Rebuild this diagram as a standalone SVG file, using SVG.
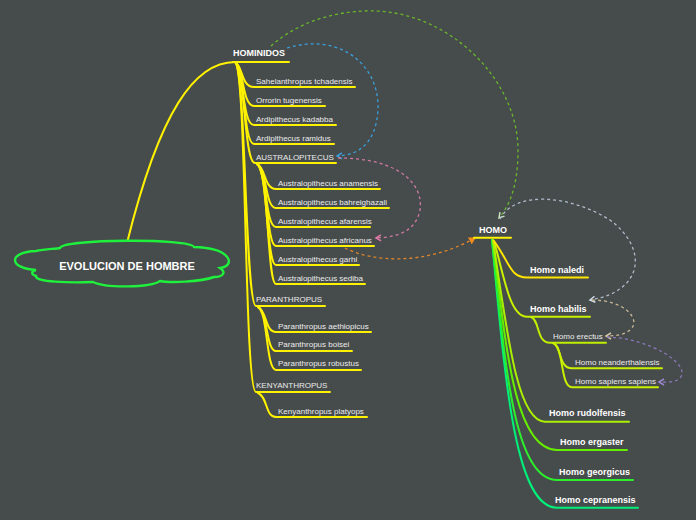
<svg xmlns="http://www.w3.org/2000/svg" width="696" height="520" viewBox="0 0 696 520">
<defs>
<style>
.bg{fill:#464b4b}
.br{fill:none;stroke-width:2;stroke-linecap:round}
.y{stroke:#fff200}
.t{font-family:"Liberation Sans",Arial,sans-serif;font-size:8px;fill:#ececec}
.b{font-family:"Liberation Sans",Arial,sans-serif;font-size:9px;font-weight:bold;fill:#ffffff}
.d{fill:none;stroke-width:1.3;stroke-dasharray:3 3}
</style>
<marker id="mBlue" markerWidth="8" markerHeight="8" refX="6" refY="4" orient="auto" markerUnits="userSpaceOnUse"><path d="M1,1 L6,4 L1,7" fill="none" stroke="#3aa0dc" stroke-width="1.5"/></marker>
<marker id="mPink" markerWidth="8" markerHeight="8" refX="6" refY="4" orient="auto" markerUnits="userSpaceOnUse"><path d="M1,1 L6,4 L1,7" fill="none" stroke="#e07aa8" stroke-width="1.5"/></marker>
<marker id="mGreen" markerWidth="8" markerHeight="8" refX="6" refY="4" orient="auto" markerUnits="userSpaceOnUse"><path d="M1,1 L6,4 L1,7" fill="none" stroke="#c8e0c0" stroke-width="1.5"/></marker>
<marker id="mGrey" markerWidth="8" markerHeight="8" refX="6" refY="4" orient="auto" markerUnits="userSpaceOnUse"><path d="M1,1 L6,4 L1,7" fill="none" stroke="#d0dce8" stroke-width="1.5"/></marker>
<marker id="mTan" markerWidth="8" markerHeight="8" refX="6" refY="4" orient="auto" markerUnits="userSpaceOnUse"><path d="M1,1 L6,4 L1,7" fill="none" stroke="#d8c8a8" stroke-width="1.5"/></marker>
<marker id="mPurple" markerWidth="8" markerHeight="8" refX="6" refY="4" orient="auto" markerUnits="userSpaceOnUse"><path d="M1,1 L6,4 L1,7" fill="none" stroke="#9a88cc" stroke-width="1.5"/></marker>
<marker id="mOrange" markerWidth="8" markerHeight="8" refX="6" refY="4" orient="auto" markerUnits="userSpaceOnUse"><path d="M0,0 L7,4 L0,8 Z" fill="#f08a1c"/></marker>
</defs>
<rect class="bg" x="0" y="0" width="696" height="520"/>

<g id="connectors">
<path class="br y" d="M127,243 C160,110 195,62 235,62"/>
<path class="br y" d="M235,62 C243,66 241,87 254,87 L355,87"/>
<path class="br y" d="M235,62 C244,67 242,106 254,106 L325,106"/>
<path class="br y" d="M235,62 C244,68 242,125 254,125 L336,125"/>
<path class="br y" d="M235,62 C245,68 243,144 254,144 L334,144"/>
<path class="br y" d="M235,62 C245,68 244,163 255,163 L336,163"/>
<path class="br y" d="M235,62 C246,70 245,306 256,306 L325,306"/>
<path class="br y" d="M235,62 C247,70 244,392 256,392 L330,392"/>
<path class="br y" d="M257,164 C266,168 264,189 276,189 L380,189"/>
<path class="br y" d="M257,164 C267,169 265,208 276,208 L389,208"/>
<path class="br y" d="M257,164 C267,170 265,227 276,227 L370,227"/>
<path class="br y" d="M257,164 C268,170 266,246 276,246 L374,246"/>
<path class="br y" d="M257,164 C268,170 266,265 276,265 L359,265"/>
<path class="br y" d="M257,164 C269,171 267,284 276,284 L365,284"/>
<path class="br y" d="M258,307 C267,311 265,332 276,332 L371,332"/>
<path class="br y" d="M258,307 C268,312 266,351 276,351 L352,351"/>
<path class="br y" d="M258,307 C268,312 266,370 276,370 L361,370"/>
<path class="br y" d="M258,393 C268,397 265,417 276,417 L367,417"/>
<path class="br" stroke="#00f07a" d="M492,240 C505,380 515,507.7 557,507.7 L638,507.7"/>
<path class="br" stroke="#2cf02c" d="M492,240 C505,360 513,480 557,480 L633,480"/>
<path class="br" stroke="#66ee00" d="M493,240 C506,350 515,450 557,450 L627,450"/>
<path class="br" stroke="#aaf000" d="M493,240 C508,340 518,421.7 545,421.7 L629,421.7"/>
<path class="br" stroke="#c8f000" d="M494,241 C505,280 510,316.7 527,316.7 L590,316.7"/>
<path class="br" stroke="#ffe400" d="M494,241 C510,263 510,277.5 527,277.5 L588,277.5"/>
<path class="br" stroke="#c0ee00" d="M531,317 C540,320 536,342.7 550,342.7 L606,342.7"/>
<path class="br" stroke="#c8f000" d="M553,343 C562,346 558,368.3 572,368.3 L662,368.3"/>
<path class="br" stroke="#c8f000" d="M553,343 C564,346 560,387.3 572,387.3 L658,387.3"/>
<path class="d" stroke="#6ab82a" marker-end="url(#mGreen)" d="M271,46 C300,20 340,10 375,11 C450,13 518,80 518,150 C518,185 510,205 499,218"/>
<path class="d" stroke="#3aa0dc" marker-end="url(#mBlue)" d="M287,48 C340,32 380,65 378,110 C376,140 362,155 337,156"/>
<path class="d" stroke="#d07aa0" marker-end="url(#mPink)" d="M338,158 C400,158 424,185 420,210 C416,230 400,237 376,238"/>
<path class="d" stroke="#e0852a" marker-end="url(#mOrange)" d="M345,248 C372,262 425,266 475,238"/>
<path class="d" stroke="#b0bccc" marker-end="url(#mGrey)" d="M500,219 C515,190 570,195 610,220 C650,250 642,292 590,300"/>
<path class="d" stroke="#c8b894" marker-end="url(#mTan)" d="M592,300 C625,300 642,320 630,330 C624,335 615,336 606,336"/>
<path class="d" stroke="#8a78bb" marker-end="url(#mPurple)" d="M607,337 C650,338 692,365 680,378 C675,383 666,382 659,382"/>
</g>

<g id="node-root">
<path d="M36,270 C8,268 8,252 36,251 C45,249 55,249 60,248 C62,239 190,238 194,247 C232,248 236,266 220,268 C226,272 224,277 214,277 C200,282 170,283 160,281 C150,288 105,288 93,282 C70,283 34,282 36,276 C30,274 32,271 36,270 Z" fill="#464b4b" stroke="#1ef03c" stroke-width="2.4"/>
<text class="b" x="127" y="270" text-anchor="middle" style="font-size:11px">EVOLUCION DE HOMBRE</text>
</g>

<g id="node-hominidos">
<text class="b" x="233" y="56">HOMINIDOS</text>
<line class="br y" x1="233" y1="62" x2="289" y2="62"/>
</g>
<g id="node-sahelanthropus"><text class="t" x="256" y="83.5">Sahelanthropus tchadensis</text></g>
<g id="node-orrorin"><text class="t" x="256" y="102.5">Orrorin tugenensis</text></g>
<g id="node-kadabba"><text class="t" x="256" y="121.5">Ardipithecus kadabba</text></g>
<g id="node-ramidus"><text class="t" x="256" y="140.5">Ardipithecus ramidus</text></g>
<g id="node-australopitecus"><text class="t" x="256" y="159.5">AUSTRALOPITECUS</text></g>
<g id="node-anamensis"><text class="t" x="278" y="185.5">Australopithecus anamensis</text></g>
<g id="node-bahreighazali"><text class="t" x="278" y="204.5">Australopithecus bahreighazali</text></g>
<g id="node-afarensis"><text class="t" x="278" y="223.5">Australopithecus afarensis</text></g>
<g id="node-africanus"><text class="t" x="278" y="242.5">Australopithecus africanus</text></g>
<g id="node-garhi"><text class="t" x="278" y="261.5">Australopithecus garhi</text></g>
<g id="node-sediba"><text class="t" x="278" y="280.5">Australopithecus sediba</text></g>
<g id="node-paranthropus"><text class="t" x="256" y="302">PARANTHROPUS</text></g>
<g id="node-aethiopicus"><text class="t" x="278" y="328.5">Paranthropus aethiopicus</text></g>
<g id="node-boisei"><text class="t" x="278" y="347">Paranthropus boisei</text></g>
<g id="node-robustus"><text class="t" x="278" y="366">Paranthropus robustus</text></g>
<g id="node-kenyanthropus"><text class="t" x="256" y="388">KENYANTHROPUS</text></g>
<g id="node-platyops"><text class="t" x="278" y="413.5">Kenyanthropus platyops</text></g>

<g id="node-homo">
<text class="b" x="479" y="232.5">HOMO</text>
<line class="br y" x1="474" y1="237.7" x2="511" y2="237.7"/>
</g>
<g id="node-naledi"><text class="b" x="530" y="272.5">Homo naledi</text></g>
<g id="node-habilis"><text class="b" x="530" y="311.5">Homo habilis</text></g>
<g id="node-erectus"><text class="t" x="553" y="338.5">Homo erectus</text></g>
<g id="node-neanderthalensis"><text class="t" x="575" y="364.5">Homo neanderthalensis</text></g>
<g id="node-sapiens"><text class="t" x="575" y="383.5">Homo sapiens sapiens</text></g>
<g id="node-rudolfensis"><text class="b" x="549" y="416">Homo rudolfensis</text></g>
<g id="node-ergaster"><text class="b" x="560" y="444.5">Homo ergaster</text></g>
<g id="node-georgicus"><text class="b" x="559" y="474.5">Homo georgicus</text></g>
<g id="node-cepranensis"><text class="b" x="555" y="502.5">Homo cepranensis</text></g>
</svg>
